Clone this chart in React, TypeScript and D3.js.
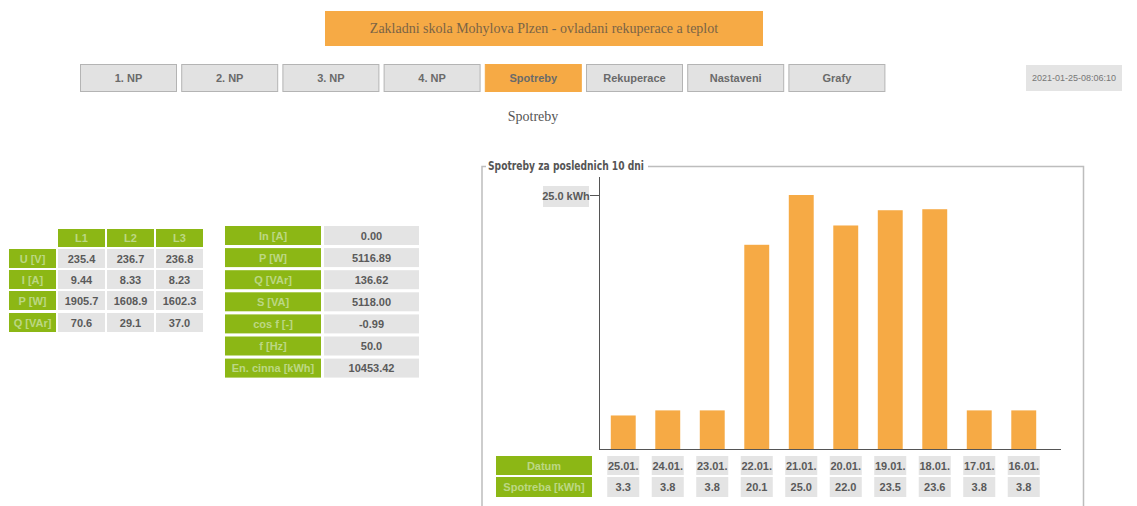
import React, { useEffect, useRef } from 'react';
import * as d3 from 'd3';

const pageTitle = 'Zakladni skola Mohylova Plzen - ovladani rekuperace a teplot';
const navItems = ['1. NP', '2. NP', '3. NP', '4. NP', 'Spotreby', 'Rekuperace', 'Nastaveni', 'Grafy'];
const activeNav = 'Spotreby';
const timestamp = '2021-01-25-08:06:10';
const sectionTitle = 'Spotreby';

const phases = ['L1', 'L2', 'L3'];
const phaseRows = ['U [V]', 'I [A]', 'P [W]', 'Q [VAr]'];
const phaseValues = [
    ['235.4', '236.7', '236.8'],
    ['9.44', '8.33', '8.23'],
    ['1905.7', '1608.9', '1602.3'],
    ['70.6', '29.1', '37.0'],
];

const totalRows = ['In [A]', 'P [W]', 'Q [VAr]', 'S [VA]', 'cos f [-]', 'f [Hz]', 'En. cinna [kWh]'];
const totalValues = ['0.00', '5116.89', '136.62', '5118.00', '-0.99', '50.0', '10453.42'];

const chartTitle = 'Spotreby za poslednich 10 dni';
const days = ['25.01.', '24.01.', '23.01.', '22.01.', '21.01.', '20.01.', '19.01.', '18.01.', '17.01.', '16.01.'];
const consumption = [3.3, 3.8, 3.8, 20.1, 25.0, 22.0, 23.5, 23.6, 3.8, 3.8];
const yTicks = [25];

const ORANGE = '#f6aa45';
const GREEN = '#8cb715';
const GREEN_TEXT = '#bcd884';
const GRAY = '#e4e4e4';
const TEXT = '#5a5a5a';
const SANS = '"Liberation Sans", Arial, sans-serif';

function App() {
    const ref = useRef<SVGSVGElement>(null);

    useEffect(() => {
        const svg = d3.select(ref.current);
        svg.selectAll('*').remove();

        const cell = (g: any, x: number, y: number, w: number, h: number, fill: string, text: string, color: string) => {
            g.append('rect').attr('x', x).attr('y', y).attr('width', w).attr('height', h).attr('fill', fill);
            g.append('text')
                .attr('x', x + w / 2).attr('y', y + h / 2 + 4)
                .attr('text-anchor', 'middle')
                .attr('font-family', SANS).attr('font-size', 11).attr('font-weight', 'bold')
                .attr('fill', color)
                .text(text);
        };

        // header
        svg.append('rect').attr('x', 325).attr('y', 11).attr('width', 438).attr('height', 35).attr('fill', ORANGE);
        svg.append('text')
            .attr('x', 544).attr('y', 33)
            .attr('text-anchor', 'middle')
            .attr('font-family', '"Liberation Serif", serif').attr('font-size', 14)
            .attr('fill', '#7a6446')
            .text(pageTitle);

        // navigation
        const nav = svg.append('g');
        navItems.forEach((name, i) => {
            const x = 80 + i * 101.2;
            const active = name === activeNav;
            nav.append('rect')
                .attr('x', x + 0.5).attr('y', 64.5).attr('width', 96).attr('height', 27)
                .attr('fill', active ? ORANGE : '#e2e2e2')
                .attr('stroke', active ? ORANGE : '#b4b4b4');
            nav.append('text')
                .attr('x', x + 48.5).attr('y', 82)
                .attr('text-anchor', 'middle')
                .attr('font-family', SANS).attr('font-size', 11).attr('font-weight', 'bold')
                .attr('fill', active ? '#6a6a6a' : '#6a6a6a')
                .text(name);
        });

        svg.append('rect').attr('x', 1026).attr('y', 65).attr('width', 96).attr('height', 26).attr('fill', '#e4e4e4');
        svg.append('text')
            .attr('x', 1074).attr('y', 81)
            .attr('text-anchor', 'middle')
            .attr('font-family', SANS).attr('font-size', 9)
            .attr('fill', '#777')
            .text(timestamp);

        svg.append('text')
            .attr('x', 533).attr('y', 121)
            .attr('text-anchor', 'middle')
            .attr('font-family', '"Liberation Serif", serif').attr('font-size', 14)
            .attr('fill', '#555')
            .text(sectionTitle);

        // phase table
        const pt = svg.append('g');
        const colX = [58, 107, 156];
        const rowY = [249, 270, 291, 313];
        phases.forEach((p, j) => cell(pt, colX[j], 229, 47, 18, GREEN, p, GREEN_TEXT));
        phaseRows.forEach((r, i) => {
            cell(pt, 9, rowY[i], 47, 19, GREEN, r, GREEN_TEXT);
            phaseValues[i].forEach((v, j) => cell(pt, colX[j], rowY[i], 47, 19, GRAY, v, TEXT));
        });

        // totals table
        const tt = svg.append('g');
        totalRows.forEach((r, i) => {
            const y = 226 + i * 22.1;
            cell(tt, 225, y, 96, 19, GREEN, r, GREEN_TEXT);
            cell(tt, 324, y, 95, 19, GRAY, totalValues[i], TEXT);
        });

        // chart fieldset
        const fs = svg.append('g');
        fs.append('path')
            .attr('d', 'M482,510 V166.5 H486 M648,166.5 H1083.5 V510')
            .attr('fill', 'none').attr('stroke', '#bdbdbd').attr('stroke-width', 1.5);
        fs.append('text')
            .attr('x', 488).attr('y', 170)
            .attr('font-family', '"DejaVu Sans Condensed", "DejaVu Sans", sans-serif')
            .attr('font-size', 12).attr('font-weight', 'bold')
            .attr('textLength', 156).attr('lengthAdjust', 'spacingAndGlyphs')
            .attr('fill', '#555')
            .text(chartTitle);

        const x = d3.scaleBand<string>().domain(days).range([601, 1046]).paddingInner(0.44).paddingOuter(0.22);
        const y = d3.scaleLinear().domain([0, 25]).range([449, 195]);

        const chart = svg.append('g');
        chart.selectAll('rect.bar')
            .data(consumption)
            .enter()
            .append('rect')
            .attr('class', 'bar')
            .attr('x', (d, i) => x(days[i]) as number)
            .attr('y', d => y(d))
            .attr('width', x.bandwidth())
            .attr('height', d => y(0) - y(d))
            .attr('fill', ORANGE);

        // axes
        chart.append('line')
            .attr('x1', 599.5).attr('x2', 599.5).attr('y1', 177).attr('y2', y(0))
            .attr('stroke', '#555');
        chart.append('line')
            .attr('x1', 599).attr('x2', 1061).attr('y1', y(0) + 0.5).attr('y2', y(0) + 0.5)
            .attr('stroke', '#555');
        yTicks.forEach(t => {
            chart.append('line')
                .attr('x1', 590).attr('x2', 599).attr('y1', y(t) + 0.5).attr('y2', y(t) + 0.5)
                .attr('stroke', '#555');
            chart.append('rect').attr('x', 543).attr('y', y(t) - 9).attr('width', 46).attr('height', 21).attr('fill', GRAY);
            chart.append('text')
                .attr('x', 566).attr('y', y(t) + 5)
                .attr('text-anchor', 'middle')
                .attr('font-family', SANS).attr('font-size', 11).attr('font-weight', 'bold')
                .attr('fill', TEXT)
                .text(d3.format('.1f')(t) + ' kWh');
        });

        // data table under bars
        const dt = svg.append('g');
        cell(dt, 496, 456, 96, 19, GREEN, 'Datum', GREEN_TEXT);
        cell(dt, 496, 477, 96, 20, GREEN, 'Spotreba [kWh]', GREEN_TEXT);
        days.forEach((d, i) => {
            const cx = (x(d) as number) + x.bandwidth() / 2;
            cell(dt, cx - 16, 456, 32, 19, GRAY, d, TEXT);
            cell(dt, cx - 16, 477, 32, 20, GRAY, d3.format('.1f')(consumption[i]), TEXT);
        });
    }, []);

    return (
        <svg ref={ref} width={1137} height={506}
            style={{ position: 'absolute', left: 0, top: 0, background: '#fff' }} />
    );
}

export default App;
